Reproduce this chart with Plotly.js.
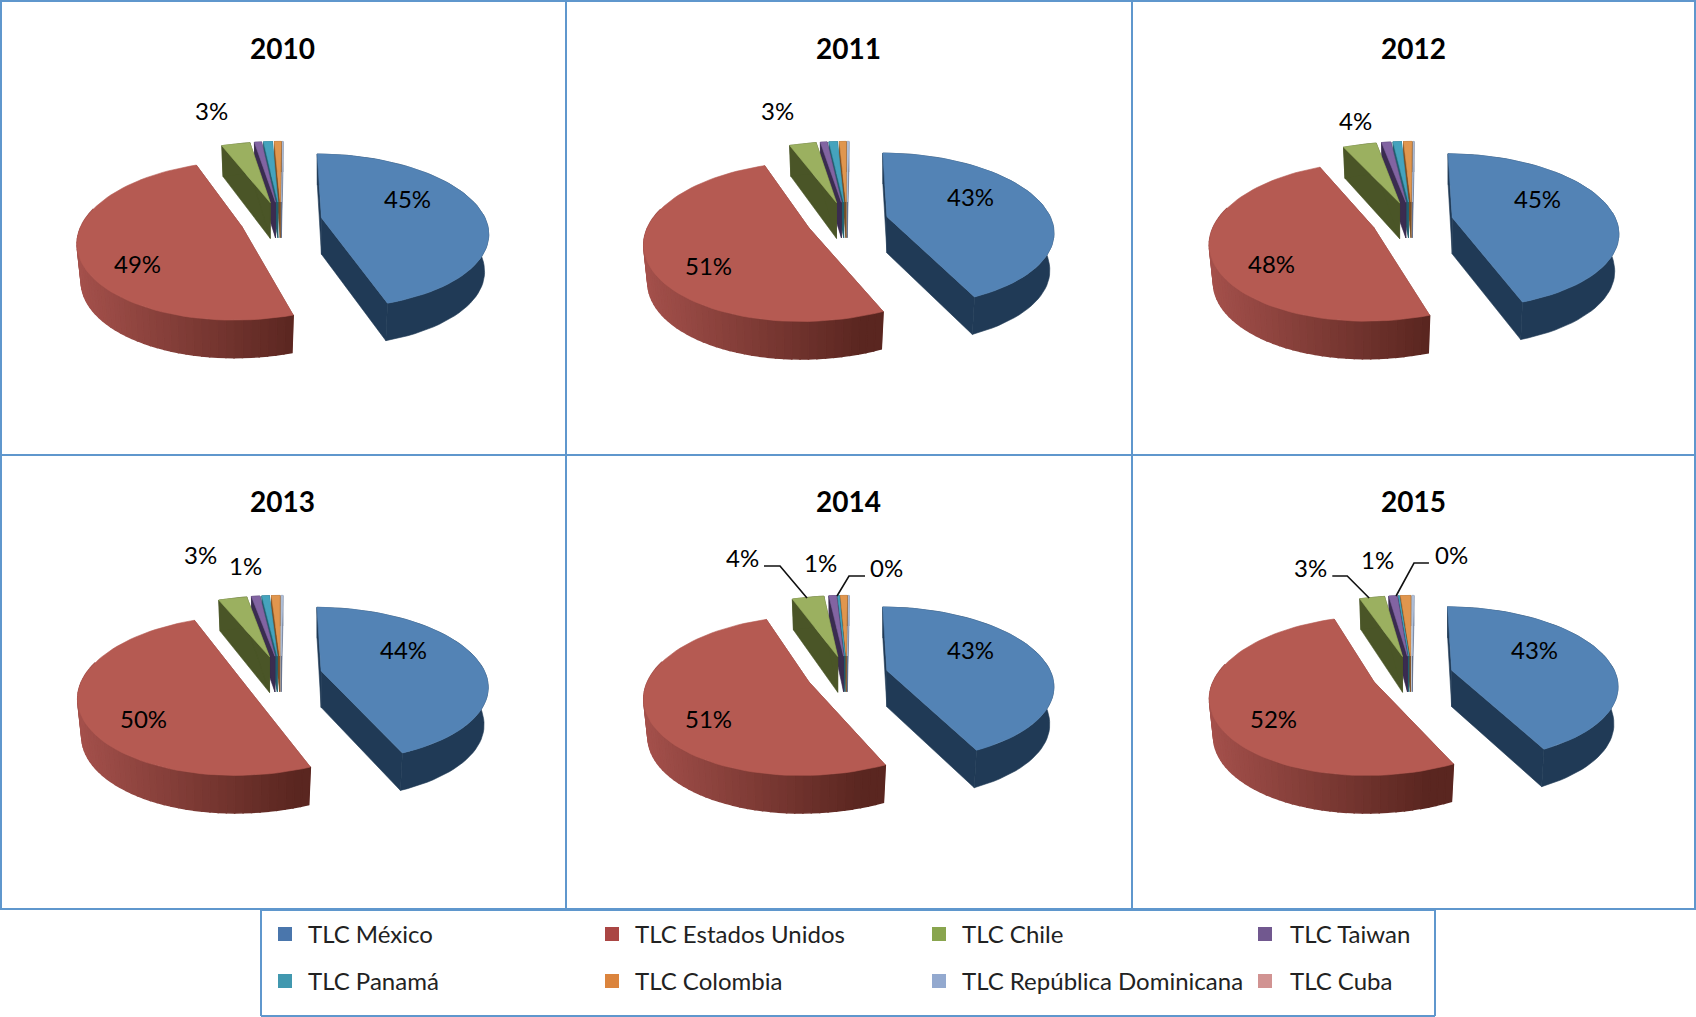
<!DOCTYPE html>
<html><head><meta charset="utf-8">
<script src="https://cdn.plot.ly/plotly-3.0.1.min.js"></script>
<style>html,body{margin:0;padding:0;background:#fff}#c{width:1696px;height:1017px}</style>
</head><body><div id="c"></div>
<script>
const categories=["TLC México","TLC Estados Unidos","TLC Chile","TLC Taiwan","TLC Panamá","TLC Colombia","TLC República Dominicana","TLC Cuba"];
const years=["2010","2011","2012","2013","2014","2015"];
const v2010=[45.0,48.8,3.4,0.85,1.05,0.8,0.1,0];
const v2011=[43.0,51.0,3.2,0.8,1.0,0.8,0.2,0];
const v2012=[44.6,48.2,4.0,1.1,1.0,1.0,0.1,0];
const v2013=[43.6,49.9,3.4,1.0,0.9,1.0,0.2,0];
const v2014=[42.8,51.4,3.8,0.9,0.2,0.8,0.1,0];
const v2015=[42.5,52.0,3.0,1.0,0.1,1.2,0.2,0];
const series=[v2010,v2011,v2012,v2013,v2014,v2015];
const l2010=["45%","49%","3%"];
const l2011=["43%","51%","3%"];
const l2012=["45%","48%","4%"];
const l2013=["44%","50%","3%","1%"];
const l2014=["43%","51%","4%","1%","0%"];
const l2015=["43%","52%","3%","1%","0%"];
const labels=[l2010,l2011,l2012,l2013,l2014,l2015];
// styling / layout below
const topColors=["#5383b5","#b55a52","#9bb060","#8264a2","#45a3bd","#e0964e","#b8c8e0","#d8a8a6"];
const sideColors=["#203a56","#8a3f3a","#4a5527","#3a2c50","#215f6e","#7d4f22","#5f6f8c","#7d5553"];
const swatches=["#4a76ac","#aa4644","#89a54e","#71588f","#4198af","#db843d","#93a9cf","#d19392"];
const labelPos=[
 [[407,198],[137,263],[211,110]],
 [[404,196],[142,265],[211,110]],
 [[407,198],[140,263],[224,120]],
 [[403,195],[143,264],[200,100],[245,111]],
 [[404,195],[142,264],[176,103],[254,108],[320,113]],
 [[404,195],[142,264],[179,113],[246,105],[321,100]]];
const leaders={4:[[[198,112],[214,112],[241,144]],[[299,122],[283,122],[271,142]]],
               5:[[[201,122],[216,122],[238,144]],[[298,109],[283,109],[265,142]]]};
const W=1696,H=1017;
const cx=281,cy=220.5,A=164,ALEFT=160,B=75.5,K=0.172,E=0.25,DEPTH=36.5,START=0.7,BOTTOM=0.975;
function proj(th,r,m){
  const ue=E*Math.sin(m), we=-E*Math.cos(m);
  const ur=r*Math.sin(th), wr=-r*Math.cos(th);
  const s=1/(1-K*(wr+0.5*we));
  const a=ur<0?ALEFT:A;
  const ax=cx+A*ue/(1-K*0.5*we);
  const x=cx+(A*ue+a*ur)*s, y=cy+B*(wr+we)*s;
  return {x,y,d:Math.min(37.5,DEPTH*s),bx:ax+(x-ax)*BOTTOM};
}
function mix(a,b,t){const p=c=>[1,3,5].map(i=>parseInt(c.substr(i,2),16));
  const x=p(a),y=p(b);return "rgb("+x.map((q,i)=>Math.round(q+(y[i]-q)*t)).join(",")+")";}
const traces=[];
const annotations=[];
function poly(xs,ys,color,name,ax,lw){
  traces.push({type:"scatter",mode:"lines",x:xs,y:ys,fill:"toself",fillcolor:color,
    line:{color:color,width:lw||0.6},name:name,showlegend:false,hoverinfo:"name",xaxis:ax.x,yaxis:ax.y});
}
series.forEach((vals,p)=>{
  const ax={x:p?"x"+(p+1):"x",y:p?"y"+(p+1):"y"};
  const total=vals.reduce((a,b)=>a+b,0);
  let ang=START*Math.PI/180;
  const slices=vals.map((v,i)=>{const s={i,v,a0:ang,a1:ang+v/total*2*Math.PI};ang=s.a1;return s;}).filter(s=>s.v>0);
  slices.slice().reverse().forEach(s=>{
    const m=(s.a0+s.a1)/2,n=Math.max(2,Math.ceil((s.a1-s.a0)/(2.5*Math.PI/180)));
    const arc=[];for(let j=0;j<=n;j++)arc.push(proj(s.a0+(s.a1-s.a0)*j/n,1,m));
    const c=proj(0,0,m);
    const name=categories[s.i]+" "+years[p];
    // radial walls
    [arc[0],arc[n]].forEach(e=>{
      poly([c.x,e.x,e.bx,c.x,c.x],[c.y,e.y,e.y+e.d,c.y+c.d,c.y],sideColors[s.i],name,ax);
    });
    // outer wall
    if(s.i===1){
      for(let j=0;j<n;j++){
        const q=arc[j],r=arc[j+1];
        if(q.y<cy-10&&r.y<cy-10)continue;
        const t=Math.min(1,Math.max(0,(q.x-75)/225));
        const col=mix("#a5514c","#5a2620",t);
        poly([q.x,r.x,r.bx,q.bx,q.x],[q.y,r.y,r.y+r.d,q.y+q.d,q.y],col,name,ax,1.5);
      }
    } else {
      const xs=arc.map(q=>q.x).concat(arc.slice().reverse().map(q=>q.bx));
      const ys=arc.map(q=>q.y).concat(arc.slice().reverse().map(q=>q.y+q.d));
      poly(xs.concat(xs[0]),ys.concat(ys[0]),sideColors[s.i],name,ax);
    }
    // top
    const tx=[c.x].concat(arc.map(q=>q.x),c.x),ty=[c.y].concat(arc.map(q=>q.y),c.y);
    poly(tx,ty,topColors[s.i],name,ax);
  });
  (leaders[p]||[]).forEach(L=>{
    traces.push({type:"scatter",mode:"lines",x:L.map(q=>q[0]),y:L.map(q=>q[1]),line:{color:"#111",width:1.6},
      showlegend:false,hoverinfo:"skip",xaxis:ax.x,yaxis:ax.y});
  });
  labels[p].forEach((t,i)=>annotations.push({xref:ax.x,yref:ax.y,x:labelPos[p][i][0],y:labelPos[p][i][1],text:t,showarrow:false,
    xanchor:"center",yanchor:"middle",font:{family:"Lato",size:24,color:"#000"}}));
  annotations.push({xref:ax.x,yref:ax.y,x:282,y:47.5,text:"<b>"+years[p]+"</b>",showarrow:false,xanchor:"center",yanchor:"middle",
    font:{family:"Lato",size:28,color:"#000"}});
});
const layout={width:W,height:H,margin:{l:0,r:0,t:0,b:0},paper_bgcolor:"#fff",plot_bgcolor:"rgba(0,0,0,0)",showlegend:false,annotations,shapes:[]};
function hide(range,domain,anchor){return {range,domain,anchor,visible:false,fixedrange:true};}
for(let p=0;p<6;p++){
  const c=p%3,r=Math.floor(p/3),s=p?String(p+1):"";
  const x0=c*566,y0=r*454;
  layout["xaxis"+s]=hide([0,566],[x0/W,Math.min(1,(x0+566)/W)],"y"+s);
  layout["yaxis"+s]=hide([454,0],[1-(y0+454)/H,1-y0/H],"x"+s);
}
// legend panel
const LX=261,LY=908,LW=1174,LH=109;
layout.xaxis7=hide([0,LW],[LX/W,(LX+LW)/W],"y7");
layout.yaxis7=hide([LH,0],[1-(LY+LH)/H,1-LY/H],"x7");
const colX=[24,351,678,1004],textGap=[21,21,21,23],rowY=[26,73];
categories.forEach((n,i)=>{
  const x=colX[i%4],y=rowY[Math.floor(i/4)];
  traces.push({type:"scatter",mode:"markers",x:[x],y:[y],name:n,showlegend:false,hoverinfo:"name",
    marker:{symbol:"square",size:14,color:swatches[i]},xaxis:"x7",yaxis:"y7"});
  annotations.push({xref:"x7",yref:"y7",x:x+textGap[i%4],y:y-0.5,text:n,showarrow:false,xanchor:"left",yanchor:"middle",
    font:{family:"Lato",size:24,color:"#222"}});
});
// frame lines
const bc="#5f97cd";
function ln(x0,y0,x1,y1){layout.shapes.push({type:"line",xref:"paper",yref:"paper",x0:x0/W,x1:x1/W,y0:1-y0/H,y1:1-y1/H,line:{color:bc,width:2}});}
[1,455,909].forEach(y=>ln(0,y,W,y));
[1,566,1132,1695].forEach(x=>ln(x,0,x,909));
ln(261,910,1435,910);ln(261,1016,1435,1016);ln(261,909,261,1016);ln(1435,909,1435,1016);
Plotly.newPlot("c",traces,layout,{displayModeBar:false,staticPlot:true});
</script></body></html>
